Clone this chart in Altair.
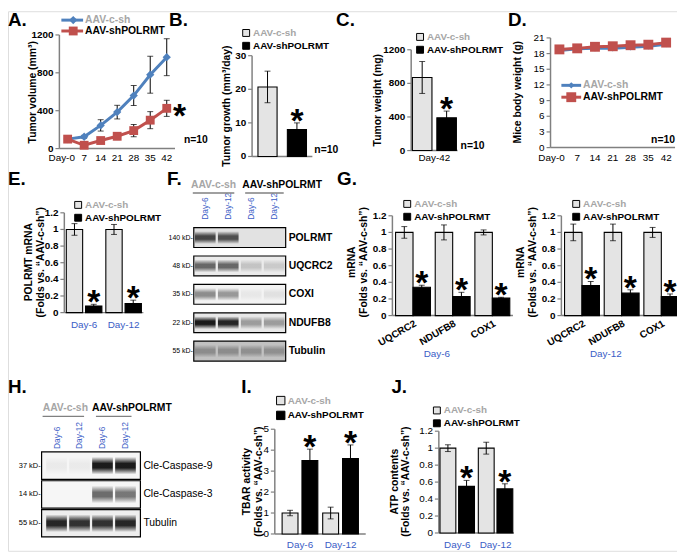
import altair as alt
import pandas as pd

W, H = 677, 546
FONT = "Liberation Sans"
GRAY = "#808080"
DAYBLUE = "#3a5dc6"
LINE_BLUE = "#4f81bd"
LINE_RED = "#c0504d"
GROUPS = ["AAV-c-sh", "AAV-shPOLRMT"]

# ---------------- data ----------------
a_days = ["Day-0", "7", "14", "21", "28", "35", "42"]
a_ctrl = [100, 125, 245, 385, 560, 780, 965]
a_ctrl_err = [0, 15, 60, 72, 105, 195, 195]
a_sh = [100, 35, 85, 130, 190, 300, 425]
a_sh_err = [0, 10, 25, 35, 65, 90, 85]

b_vals = [20.7, 8.0]
b_err = [4.7, 2.0]

c_vals = [870, 390]
c_err = [190, 80]

d_ctrl = [18.6, 18.9, 19.0, 19.0, 19.2, 19.4, 19.8]
d_sh = [18.8, 19.0, 19.3, 19.4, 19.6, 19.7, 20.1]
d_err = [0, 0, 0, 0, 0, 0, 0]

e_days = ["Day-6", "Day-12"]
e_ctrl = [1.0, 1.0]
e_ctrl_err = [0.07, 0.06]
e_sh = [0.08, 0.11]
e_sh_err = [0.02, 0.04]

g_genes = ["UQCRC2", "NDUFB8", "COX1"]
g6_ctrl = [1.0, 1.0, 1.0]
g6_ctrl_err = [0.07, 0.09, 0.03]
g6_sh = [0.34, 0.23, 0.21]
g6_sh_err = [0.025, 0.05, 0.01]
g12_ctrl = [1.0, 1.0, 1.0]
g12_ctrl_err = [0.1, 0.1, 0.06]
g12_sh = [0.36, 0.27, 0.23]
g12_sh_err = [0.05, 0.04, 0.03]

i_ctrl = [1.0, 1.0]
i_ctrl_err = [0.13, 0.28]
i_sh = [3.5, 3.6]
i_sh_err = [0.55, 0.65]

j_ctrl = [1.0, 1.0]
j_ctrl_err = [0.04, 0.07]
j_sh = [0.55, 0.52]
j_sh_err = [0.07, 0.06]

lanes = ["c6", "c12", "s6", "s12"]
lane_labels = ["Day-6", "Day-12", "Day-6", "Day-12"]

f_proteins = ["POLRMT", "UQCRC2", "COXI", "NDUFB8", "Tubulin"]
f_kd = ["140 kD-", "48 kD-", "35 kD-", "22 kD-", "55 kD-"]
f_bg = [0.1, 0.07, 0.04, 0.08, 0.22]
f_bands = [
    [0.75, 0.7, 0.0, 0.0],
    [0.6, 0.6, 0.18, 0.15],
    [0.45, 0.4, 0.05, 0.08],
    [0.95, 0.9, 0.35, 0.35],
    [0.3, 0.3, 0.28, 0.28],
]

h_proteins = ["Cle-Caspase-9", "Cle-Caspase-3", "Tubulin"]
h_kd = ["37 kD-", "14 kD-", "55 kD-"]
h_bg = [0.03, 0.03, 0.06]
h_bands = [
    [0.05, 0.05, 0.95, 0.95],
    [0.0, 0.0, 0.6, 0.55],
    [0.9, 0.85, 0.85, 0.9],
]

ONE = pd.DataFrame({"k": [0]})


def p(v):
    return v - 8


def txt(x, y, s, size=10.5, weight="bold", color="black", align="left", baseline="alphabetic", angle=0,
        line_height=12.5):
    return alt.Chart(ONE).mark_text(text=s, font=FONT, fontSize=size, fontWeight=weight, color=color,
                                    align=align, baseline=baseline, angle=angle, lineHeight=line_height).encode(
        x=alt.value(p(x)), y=alt.value(p(y)))


def hrule(x0, x1, y, color, width=1.5):
    return alt.Chart(ONE).mark_rule(color=color, strokeWidth=width).encode(
        x=alt.value(p(x0)), x2=alt.value(p(x1)), y=alt.value(p(y)))


def axis_layers(ysc, ydom, yticks, ax_x, ybold, title, title_xy, x_end, ax_y, line_height=12.5):
    tdf = pd.DataFrame({"v": yticks})
    ddf = pd.DataFrame({"lo": [ydom[0]], "hi": [ydom[1]]})
    dom = alt.Chart(ddf).mark_rule(color=GRAY, strokeWidth=1.5).encode(
        x=alt.value(p(ax_x)), y=alt.Y("lo:Q", scale=ysc, axis=None), y2="hi:Q")
    ticks = alt.Chart(tdf).mark_rule(color=GRAY, strokeWidth=1.2).encode(
        x=alt.value(p(ax_x - 4)), x2=alt.value(p(ax_x)), y=alt.Y("v:Q", scale=ysc, axis=None))
    labels = alt.Chart(tdf).mark_text(align="right", baseline="middle", font=FONT, fontSize=10,
                                      fontWeight="bold" if ybold else "normal", color="black").encode(
        x=alt.value(p(ax_x - 6)), y=alt.Y("v:Q", scale=ysc, axis=None), text=alt.Text("v:Q", format="~g"))
    ttl = txt(title_xy[0], title_xy[1], title, size=10.5, angle=270, align="center", baseline="middle",
              line_height=line_height)
    xdom = hrule(ax_x, x_end, ax_y, GRAY)
    return [xdom, dom, ticks, labels, ttl]


def bar_legend(lx, ly, sym=49):
    return alt.Legend(orient="none", legendX=p(lx), legendY=p(ly), title=None, symbolType="square",
                      symbolSize=sym, symbolStrokeColor="black", symbolStrokeWidth=1,
                      labelFont=FONT, labelFontSize=10, labelFontWeight="bold",
                      labelColor={"expr": "datum.label == 'AAV-c-sh' ? '#a6a6a6' : '#000000'"},
                      labelOffset=2, rowPadding=1, padding=0)


def bar_panel(days, ctrl, ctrl_err, sh, sh_err, xr, pad_in, pad_out, off_in, off_out,
              yr, ydom, yticks, ax_x, ytitle, title_xy, ybold, leg, x_end,
              xlabels=True, xl_y=0, xl_color=DAYBLUE, xl_weight="normal", xl_angle=0, xl_align="center",
              xl_baseline="middle", line_height=12.5):
    rows = []
    for i, d in enumerate(days):
        rows.append(dict(day=d, group=GROUPS[0], val=ctrl[i], lo=ctrl[i] - ctrl_err[i], hi=ctrl[i] + ctrl_err[i]))
        rows.append(dict(day=d, group=GROUPS[1], val=sh[i], lo=sh[i] - sh_err[i], hi=sh[i] + sh_err[i]))
    df = pd.DataFrame(rows)
    base = alt.Chart(df)
    xsc = alt.Scale(domain=days, range=[p(xr[0]), p(xr[1])], paddingInner=pad_in, paddingOuter=pad_out)
    osc = alt.Scale(domain=GROUPS, paddingInner=off_in, paddingOuter=off_out)
    ysc = alt.Scale(domain=ydom, range=[p(yr[0]), p(yr[1])], nice=False, zero=True)
    x = alt.X("day:N", sort=days, scale=xsc, axis=None)
    xo = alt.XOffset("group:N", sort=GROUPS, scale=osc)
    layers = axis_layers(ysc, ydom, yticks, ax_x, ybold, ytitle, title_xy, x_end, yr[0], line_height)
    bars = base.mark_bar(stroke="black", strokeWidth=1.1).encode(
        x=x, xOffset=xo, y=alt.Y("val:Q", scale=ysc, axis=None),
        color=alt.Color("group:N", sort=GROUPS, scale=alt.Scale(domain=GROUPS, range=["#e4e4e4", "#000000"]),
                        legend=leg))
    err = base.mark_rule(color="black", strokeWidth=1).encode(
        x=x, xOffset=xo, y=alt.Y("lo:Q", scale=ysc, axis=None), y2="hi:Q")
    cap_lo = base.mark_tick(color="black", thickness=1, size=6).encode(
        x=x, xOffset=xo, y=alt.Y("lo:Q", scale=ysc, axis=None))
    cap_hi = base.mark_tick(color="black", thickness=1, size=6).encode(
        x=x, xOffset=xo, y=alt.Y("hi:Q", scale=ysc, axis=None))
    star = base.transform_filter(alt.datum.group == GROUPS[1]).mark_text(
        text="*", font=FONT, fontSize=34, fontWeight="bold", baseline="alphabetic", dy=9, color="black").encode(
        x=x, xOffset=xo, y=alt.Y("hi:Q", scale=ysc, axis=None))
    layers += [bars, err, cap_lo, cap_hi, star]
    if xlabels:
        ldf = pd.DataFrame({"day": days})
        layers.append(alt.Chart(ldf).mark_text(font=FONT, fontSize=10, fontWeight=xl_weight, color=xl_color,
                                               angle=xl_angle, align=xl_align, baseline=xl_baseline).encode(
            x=x, y=alt.value(p(xl_y)), text="day:N"))
    return alt.layer(*layers)


def line_panel(days, ctrl, ctrl_err, sh, sh_err, xr, yr, ydom, yticks, ax_x, ytitle, title_xy, ybold,
               sizes, xl_y, star_day=None, day0_dx=0):
    rows = []
    for i, d in enumerate(days):
        rows.append(dict(day=d, group=GROUPS[0], val=ctrl[i], err=ctrl_err[i], lo=ctrl[i] - ctrl_err[i], hi=ctrl[i] + ctrl_err[i]))
        rows.append(dict(day=d, group=GROUPS[1], val=sh[i], err=sh_err[i], lo=sh[i] - sh_err[i], hi=sh[i] + sh_err[i]))
    df = pd.DataFrame(rows)
    base = alt.Chart(df)
    xsc = alt.Scale(domain=days, range=[p(xr[0]), p(xr[1])], paddingInner=0, paddingOuter=0)
    ysc = alt.Scale(domain=ydom, range=[p(yr[0]), p(yr[1])], nice=False, zero=True)
    x = alt.X("day:N", sort=days, scale=xsc, axis=None)
    colr = alt.Color("group:N", sort=GROUPS, scale=alt.Scale(domain=GROUPS, range=[LINE_BLUE, LINE_RED]), legend=None)
    shp = alt.Shape("group:N", sort=GROUPS, scale=alt.Scale(domain=GROUPS, range=["diamond", "square"]), legend=None)
    sz = alt.Size("group:N", sort=GROUPS, scale=alt.Scale(domain=GROUPS, range=sizes), legend=None)
    layers = axis_layers(ysc, ydom, yticks, ax_x, ybold, ytitle, title_xy, xr[1], yr[0])
    eb = base.transform_filter(alt.datum.err > 0)
    err = eb.mark_rule(color="black", strokeWidth=1).encode(
        x=x, y=alt.Y("lo:Q", scale=ysc, axis=None), y2="hi:Q")
    cap_lo = eb.mark_tick(color="black", thickness=1, size=6).encode(x=x, y=alt.Y("lo:Q", scale=ysc, axis=None))
    cap_hi = eb.mark_tick(color="black", thickness=1, size=6).encode(x=x, y=alt.Y("hi:Q", scale=ysc, axis=None))
    line = base.mark_line(strokeWidth=3).encode(x=x, y=alt.Y("val:Q", scale=ysc, axis=None), color=colr)
    pts = base.mark_point(filled=True, opacity=1).encode(
        x=x, y=alt.Y("val:Q", scale=ysc, axis=None), color=colr, shape=shp, size=sz)
    layers += [err, cap_lo, cap_hi, line, pts]
    ldf = pd.DataFrame({"day": days})
    layers.append(alt.Chart(ldf).transform_filter(alt.datum.day != days[0]).mark_text(
        font=FONT, fontSize=10, color="black", baseline="middle").encode(
        x=x, y=alt.value(p(xl_y)), text="day:N"))
    layers.append(alt.Chart(ldf).transform_filter(alt.datum.day == days[0]).mark_text(
        font=FONT, fontSize=10, color="black", baseline="middle", dx=day0_dx).encode(
        x=x, y=alt.value(p(xl_y)), text="day:N"))
    if star_day is not None:
        layers.append(base.transform_filter((alt.datum.group == GROUPS[1]) & (alt.datum.day == star_day)).mark_text(
            text="*", font=FONT, fontSize=34, fontWeight="bold", baseline="alphabetic", dx=13, dy=19,
            color="black").encode(x=x, y=alt.Y("val:Q", scale=ysc, axis=None)))
    return alt.layer(*layers)


BAND_GRAD = alt.Gradient(
    gradient="linear", x1=0, x2=0, y1=0, y2=1,
    stops=[alt.GradientStop(color="rgba(0,0,0,0)", offset=0),
           alt.GradientStop(color="rgba(0,0,0,0)", offset=0.18),
           alt.GradientStop(color="#101010", offset=0.42),
           alt.GradientStop(color="#101010", offset=0.58),
           alt.GradientStop(color="rgba(0,0,0,0)", offset=0.82),
           alt.GradientStop(color="rgba(0,0,0,0)", offset=1)])


def blot(proteins, kds, bg, bands, box_x, rows_y, row_pad, lane_pad_in, lane_pad_out, lane_label_y,
         name_weight, kd_size):
    rows_df = pd.DataFrame({"protein": proteins, "kd": kds, "bg": bg})
    band_rows = []
    for pi, prot in enumerate(proteins):
        for li, lane in enumerate(lanes):
            band_rows.append({"protein": prot, "lane": lane, "intensity": bands[pi][li]})
    band_df = pd.DataFrame(band_rows)
    lane_df = pd.DataFrame({"lane": lanes, "label": lane_labels})
    ysc = alt.Scale(domain=proteins, range=[p(rows_y[0]), p(rows_y[1])], paddingInner=row_pad, paddingOuter=0)
    yenc = alt.Y("protein:N", sort=proteins, scale=ysc, axis=None)
    xenc = alt.X("lane:N", sort=lanes, scale=alt.Scale(domain=lanes, range=[p(box_x[0]), p(box_x[1])],
                                                         paddingInner=lane_pad_in, paddingOuter=lane_pad_out), axis=None)
    box = alt.Chart(rows_df).mark_rect(stroke="black", strokeWidth=1.2).encode(
        x=alt.value(p(box_x[0])), x2=alt.value(p(box_x[1])), y=yenc,
        color=alt.Color("bg:Q", scale=alt.Scale(domain=[0, 1], range=["#ffffff", "#000000"]), legend=None))
    bnd = alt.Chart(band_df).mark_rect(fill=BAND_GRAD, strokeWidth=0).encode(
        x=xenc, y=yenc,
        opacity=alt.Opacity("intensity:Q", scale=alt.Scale(domain=[0, 1], range=[0, 1]), legend=None))
    kd = alt.Chart(rows_df).mark_text(align="right", baseline="middle", font=FONT, fontSize=kd_size,
                                      color="black").encode(
        y=yenc, x=alt.value(p(box_x[0] - 1)), text="kd:N")
    names = alt.Chart(rows_df).mark_text(align="left", baseline="middle", font=FONT, fontSize=10.5,
                                         fontWeight=name_weight, color="black").encode(
        y=yenc, x=alt.value(p(box_x[1] + 3)), text="protein:N")
    lbl = alt.Chart(lane_df).mark_text(angle=270, align="left", baseline="middle", font=FONT, fontSize=8.5,
                                       color=DAYBLUE).encode(
        x=xenc, y=alt.value(p(lane_label_y)), text="label:N")
    return alt.layer(box, bnd, kd, names, lbl)


def line_legend(x0, x1, xm, y, color, shape, size, label, label_color):
    return [
        alt.Chart(ONE).mark_rule(color=color, strokeWidth=3).encode(
            x=alt.value(p(x0)), x2=alt.value(p(x1)), y=alt.value(p(y))),
        alt.Chart(ONE).mark_point(shape=shape, filled=True, color=color, size=size, opacity=1).encode(
            x=alt.value(p(xm)), y=alt.value(p(y))),
        txt(x1 + 2, y, label, color=label_color, baseline="middle"),
    ]


F12 = [0, 0.2, 0.4, 0.6, 0.8, 1, 1.2]
FOLDS = "(Folds vs. \u201cAAV-c-sh\u201d)"
GD = 171  # horizontal shift of the Day-12 mRNA chart

panelA = line_panel(a_days, a_ctrl, a_ctrl_err, a_sh, a_sh_err, xr=(60, 177), yr=(147, 32), ydom=[0, 1200],
                    yticks=[0, 400, 800, 1200], ax_x=60, ytitle="Tumor volume (mm\u00b3)", title_xy=(33, 90),
                    ybold=True, sizes=[70, 80], xl_y=157, star_day="42", day0_dx=-6)
panelB = bar_panel(["g"], [b_vals[0]], [b_err[0]], [b_vals[1]], [b_err[1]], xr=(255, 316), pad_in=0, pad_out=0,
                   off_in=0.35, off_out=0.2, yr=(155, 53), ydom=[0, 30], yticks=[0, 10, 20, 30], ax_x=255,
                   ytitle="Tumor growth (mm\u00b3/day)", title_xy=(230, 104), ybold=True,
                   leg=bar_legend(244, 25), x_end=316, xlabels=False)
panelC = bar_panel(["Day-42"], [c_vals[0]], [c_err[0]], [c_vals[1]], [c_err[1]], xr=(416, 463), pad_in=0,
                   pad_out=0, off_in=0.2, off_out=0.05, yr=(149, 47), ydom=[0, 1200], yticks=[0, 400, 800, 1200],
                   ax_x=416, ytitle="Tumor weight (mg)", title_xy=(382, 98), ybold=True,
                   leg=bar_legend(420, 29), x_end=463, xl_y=157, xl_color="black")
panelD = line_panel(a_days, d_ctrl, d_err, d_sh, d_err, xr=(557, 683), yr=(146, 35), ydom=[0, 21],
                    yticks=[0, 3, 6, 9, 12, 15, 18, 21], ax_x=557, ytitle="Mice body weight (g)",
                    title_xy=(524, 90), ybold=False, sizes=[40, 100], xl_y=157, day0_dx=-8)
panelE = bar_panel(e_days, e_ctrl, e_ctrl_err, e_sh, e_sh_err, xr=(65, 145), pad_in=0.1, pad_out=0.05,
                   off_in=0.15, off_out=0, yr=(313, 212), ydom=[0, 1.2], yticks=F12, ax_x=65,
                   ytitle=["POLRMT mRNA", FOLDS], title_xy=(29, 262), ybold=True, leg=bar_legend(74, 199),
                   x_end=145, xl_y=326)
panelG1 = bar_panel(g_genes, g6_ctrl, g6_ctrl_err, g6_sh, g6_sh_err, xr=(399, 517), pad_in=0.12, pad_out=0.03,
                    off_in=0, off_out=0, yr=(316, 215), ydom=[0, 1.2], yticks=F12, ax_x=397,
                    ytitle=["mRNA", FOLDS], title_xy=(356, 262), ybold=True, leg=bar_legend(407, 198),
                    x_end=519, xl_y=319, xl_color="black", xl_weight="bold", xl_angle=330, xl_align="right",
                    xl_baseline="top")
panelG2 = bar_panel(g_genes, g12_ctrl, g12_ctrl_err, g12_sh, g12_sh_err, xr=(399 + GD, 517 + GD), pad_in=0.12,
                    pad_out=0.03, off_in=0, off_out=0, yr=(316, 215), ydom=[0, 1.2], yticks=F12, ax_x=397 + GD,
                    ytitle=["mRNA", FOLDS], title_xy=(356 + GD, 262), ybold=True, leg=bar_legend(407 + GD, 198),
                    x_end=519 + GD, xl_y=319, xl_color="black", xl_weight="bold", xl_angle=330, xl_align="right",
                    xl_baseline="top")
panelI = bar_panel(e_days, i_ctrl, i_ctrl_err, i_sh, i_sh_err, xr=(278, 370), pad_in=0.12, pad_out=0.18,
                   off_in=0.2, off_out=0, yr=(537, 431), ydom=[0, 5], yticks=[0, 1, 2, 3, 4, 5], ax_x=278,
                   ytitle=["TBAR activity", FOLDS], title_xy=(250, 484), ybold=False,
                   leg=bar_legend(279, 397, sym=72), x_end=370, xl_y=548)
panelJ = bar_panel(e_days, j_ctrl, j_ctrl_err, j_sh, j_sh_err, xr=(444, 520), pad_in=0.1, pad_out=0.03,
                   off_in=0.15, off_out=0, yr=(536, 433), ydom=[0, 1.2], yticks=F12, ax_x=444,
                   ytitle=["ATP contents", FOLDS], title_xy=(400, 484), ybold=False, leg=bar_legend(437, 407),
                   x_end=520, xl_y=548, line_height=11)

panelF = blot(f_proteins, f_kd, f_bg, f_bands, box_x=(196, 289), rows_y=(227, 362), row_pad=0.3,
              lane_pad_in=0.1, lane_pad_out=0.05, lane_label_y=219, name_weight="bold", kd_size=7)
panelH = blot(h_proteins, h_kd, h_bg, h_bands, box_x=(42, 142), rows_y=(454, 540), row_pad=0.05,
              lane_pad_in=0.1, lane_pad_out=0.2, lane_label_y=451, name_weight="normal", kd_size=7.5)

annots = []
for s, x, y in [("A.", 8, 23), ("B.", 171, 23), ("C.", 340, 23), ("D.", 514, 23),
                ("E.", 8, 184), ("F.", 169, 184), ("G.", 341, 184),
                ("H.", 8, 394), ("I.", 244, 394), ("J.", 396, 394)]:
    annots.append(txt(x, y, s, size=19))
for x, y in [(186, 141), (318, 151), (466, 147), (683, 141)]:
    annots.append(txt(x, y, "n=10", align="right" if x > 600 else "left"))
annots += line_legend(62, 84, 74, 17, LINE_BLUE, "diamond", 70, "AAV-c-sh", "#a6a6a6")
annots += line_legend(62, 84, 74, 28, LINE_RED, "square", 80, "AAV-shPOLRMT", "black")
annots += line_legend(568, 588, 578, 83, LINE_BLUE, "diamond", 40, "AAV-c-sh", "#a6a6a6")
annots += line_legend(568, 588, 578, 95, LINE_RED, "square", 100, "AAV-shPOLRMT", "black")
annots += [txt(216, 187, "AAV-c-sh", color="#a6a6a6", align="center"), txt(245, 187, "AAV-shPOLRMT"),
           hrule(195, 237, 192, GRAY), hrule(248, 287, 192, GRAY),
           txt(66, 413, "AAV-c-sh", color="#a6a6a6", align="center"), txt(93, 413, "AAV-shPOLRMT"),
           hrule(43, 85, 418, GRAY), hrule(97, 133, 418, GRAY)]
annots += [txt(442, 358, "Day-6", weight="normal", color=DAYBLUE, align="center", size=10),
           txt(442 + GD, 358, "Day-12", weight="normal", color=DAYBLUE, align="center", size=10)]

chart = alt.layer(panelA, panelB, panelC, panelD, panelE, panelF, panelG1, panelG2, panelH, panelI, panelJ,
                  *annots).resolve_scale(
    x="independent", y="independent", color="independent", shape="independent", size="independent",
    opacity="independent", xOffset="independent"
).properties(width=W, height=H, padding=0, autosize=alt.AutoSizeParams(type="none")).configure_view(
    stroke=None).configure(background="white", font=FONT)

chart.save("out.html", embed_options={"renderer": "svg", "actions": False})
